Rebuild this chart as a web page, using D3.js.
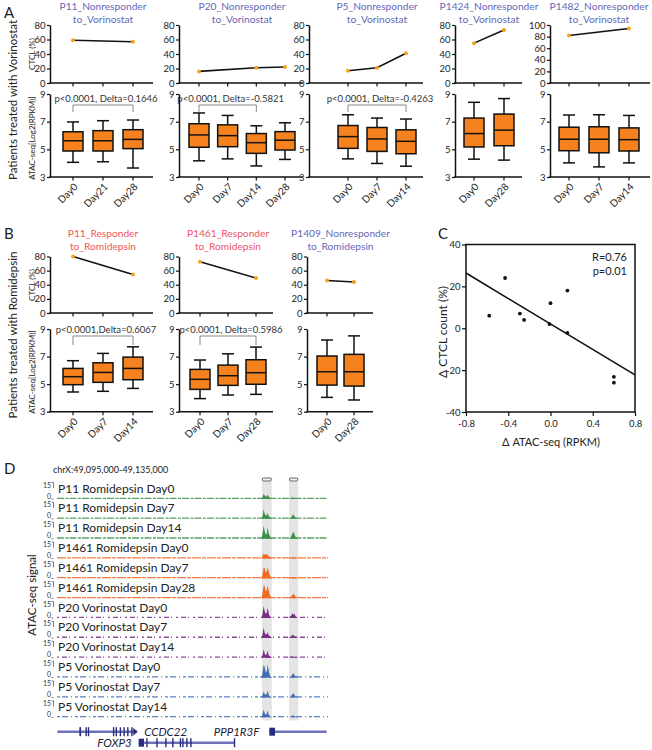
<!DOCTYPE html>
<html><head><meta charset="utf-8">
<script src="https://cdn.jsdelivr.net/npm/d3@7"></script>
<style>body{margin:0;background:#fff}svg{display:block}</style>
</head><body><svg id="c" width="652" height="750"></svg>
<script>
// ================= DATA =================
const boxTicks = [3, 5, 7, 9];

// Panel A – Vorinostat
const vorTitles = [["P11_Nonresponder","to_Vorinostat"],["P20_Nonresponder","to_Vorinostat"],["P5_Nonresponder","to_Vorinostat"],["P1424_Nonresponder","to_Vorinostat"],["P1482_Nonresponder","to_Vorinostat"]];
const vorDays = [["Day0","Day21","Day28"],["Day0","Day7","Day14","Day28"],["Day0","Day7","Day14"],["Day0","Day28"],["Day0","Day7","Day14"]];
const vorCTCL = [[59,null,57],[16,null,21,22],[17,21,41],[55,73],[82,null,94]];
const vorCTCLTicks = [[0,20,40,60,80],[0,20,40,60,80],[0,20,40,60,80],[0,20,40,60,80],[0,20,40,60,80,100]];
// [min, q1, median, q3, max]
const vorBoxes = [
  [[4.06,4.88,5.62,6.27,6.98],[4.10,4.88,5.62,6.35,7.07],[3.65,5.05,5.72,6.42,7.12]],
  [[4.17,5.15,6.04,6.85,7.63],[4.31,5.19,5.99,6.77,7.45],[3.80,4.71,5.48,6.14,6.70],[4.27,4.95,5.66,6.28,6.92]],
  [[4.31,5.07,5.92,6.72,7.50],[3.98,4.85,5.75,6.58,7.26],[3.78,4.68,5.58,6.41,7.19]],
  [[4.29,5.17,6.14,7.26,8.40],[4.22,5.26,6.39,7.55,8.67]],
  [[4.02,4.90,5.73,6.60,7.48],[3.73,4.75,5.73,6.63,7.50],[4.02,4.88,5.70,6.55,7.45]]
];
const vorStats = ["p<0.0001, Delta=0.1646","p<0.0001, Delta=-0.5821","p<0.0001, Delta=-0.4263",null,null];
const vorStatPairs = [["Day0","Day28"],["Day0","Day14"],["Day0","Day14"],null,null];

// Panel B – Romidepsin
const romTitles = [["P11_Responder","to_Romidepsin"],["P1461_Responder","to_Romidepsin"],["P1409_Nonresponder","to_Romidepsin"]];
const romResponder = [true,true,false];
const romDays = [["Day0","Day7","Day14"],["Day0","Day7","Day28"],["Day0","Day28"]];
const romCTCL = [[80,null,54.5],[72.5,null,49.5],[46,44]];
const romCTCLTicks = [0,20,40,60,80];
const romBoxes = [
  [[4.43,4.96,5.54,6.14,6.70],[4.48,5.13,5.85,6.55,7.23],[4.69,5.32,6.14,6.96,7.71]],
  [[3.95,4.62,5.35,6.07,6.75],[4.21,4.91,5.61,6.38,7.20],[4.26,4.99,5.83,6.77,7.69]],
  [[4.04,4.93,5.90,7.04,8.20],[3.85,4.86,5.90,7.16,8.50]]
];
const romStats = ["p<0.0001,Delta=0.6067","p<0.0001, Delta=0.5986",null];
const romStatPairs = [["Day0","Day14"],["Day0","Day28"],null];

// Panel C
const deltaATAC = [-0.58,-0.43,-0.29,-0.25,-0.01,0.00,0.16,0.16,0.60,0.60];
const deltaCTCL = [6,24,7,4,2,12,18,-2.2,-23.2,-26];
const cTicksX = [-0.8,-0.4,0,0.4,0.8];
const cTicksY = [-40,-20,0,20,40];
const corrText = ["R=0.76","p=0.01"];

// Panel D
const regionLabel = "chrX:49,095,000-49,135,000";
const trackNames = ["P11 Romidepsin Day0","P11 Romidepsin Day7","P11 Romidepsin Day14","P1461 Romidepsin Day0","P1461 Romidepsin Day7","P1461 Romidepsin Day28","P20 Vorinostat Day0","P20 Vorinostat Day7","P20 Vorinostat Day14","P5 Vorinostat Day0","P5 Vorinostat Day7","P5 Vorinostat Day14"];
const trackPatient = ["P11","P11","P11","P1461","P1461","P1461","P20","P20","P20","P5","P5","P5"];
const trackScale = [0, 15];
// kb offsets from 49,095,000
const peakABins = [30.2,30.35,30.5,30.65,30.8,30.95,31.1,31.25,31.4,31.55,31.7];
const peakBBins = [34.3,34.45,34.6,34.75,34.9,35.05,35.2,35.35,35.5];
const peakAVals = [
  [0.5,2,6,4,3,3,5,3,1.5,1,0.5],
  [0.5,3,11,6,4,4,7,3,2,1,0.5],
  [1,6,15,9,5,5,13,6,3,1.5,0.5],
  [1,3,6,4,5,5,4,3,2,1.5,1],
  [1,5,13,12,7,8,13,8,4,2,1],
  [1,6,15,14,8,9,15,9,4,2,1],
  [0.5,5,14,8,5,6,12,5,2,1,0.5],
  [0.5,4,12,6,4,4,7,3,2,1,0.5],
  [0.5,3,10,5,3,4,8,3,1.5,1,0.5],
  [0.5,6,15,12,6,7,15,8,3,1,0.5],
  [0.5,3,7,4,3,4,8,3,1.5,1,0.5],
  [0.5,4,9,5,3,4,8,3,1.5,1,0.5]
];
const peakBVals = [
  [0.3,0.5,1,2,1.5,1,0.5,0.3,0.2],
  [0.3,1,2,4,5,3,1.5,0.5,0.3],
  [0.5,1,3,6,8,5,2,1,0.5],
  [0.5,0.8,1,1.2,1.5,1.2,1,0.8,0.5],
  [0.5,0.8,1,1.5,1.5,1.2,1,0.8,0.5],
  [0.5,1,2,4,5,4,2,1,0.5],
  [1,2,3,6,4,5,2,1,0.5],
  [0.5,1,2,4,3,2,1.5,1,0.5],
  [0.5,1,1.5,2,1.5,1,1,0.5,0.5],
  [0.5,1,2,4,5,3,1.5,1,0.5],
  [0.5,1,2,4,5,3,1.5,1,0.5],
  [0.5,0.8,1,2,2,1.5,1,0.5,0.3]
];
const highlightKb = [[30.25,31.7],[34.25,35.6]];
const geneNames = ["CCDC22","FOXP3","PPP1R3F"];
const geneSpans = [[0.05,11.85],[12.06,26.17],[31.34,39.8]];
const geneRows = [0,1,0];
const geneExons = [
  [[3.3,3.55],[4.2,4.35],[4.55,4.75],[8.25,8.45],[8.65,8.85],[9.25,9.45],[9.8,10.0],[10.35,10.55],[10.95,11.15]],
  [[12.06,12.84],[13.17,13.32],[14.65,14.8],[15.97,16.12],[17.0,17.15],[18.12,18.27],[18.48,18.63],[19.07,19.22],[19.66,19.81],[26.1,26.25]],
  [[31.34,32.18]]
];

// ================= STYLE / LAYOUT =================
const FONT = "Lato, 'Open Sans', sans-serif";
const svg = d3.select("#c").attr("font-family", FONT);
const INK = "#111", TXT = "#222";
const BOX_FILL = "#f5821f", DOT = "#f7a21b";
const NONRESP = "#6468b6", RESP = "#ee5560";
const trackColor = {P11:"#3a9148", P1461:"#f26a22", P20:"#7a2c86", P5:"#3f6cb5"};
const trackDash = {P11:"7,1.5,3,1", P1461:"9,1,4,1", P20:"2,3,5,2,1,4", P5:"3,2,6,3,1,3"};

function text(g, x, y, s, o = {}) {
  const t = g.append("text").attr("x", x).attr("y", y).text(s)
    .attr("font-size", o.size || 10).attr("fill", o.fill || TXT)
    .attr("text-anchor", o.anchor || "start");
  if (o.rotate != null) t.attr("transform", `rotate(${o.rotate},${x},${y})`);
  if (o.italic) t.attr("font-style", "italic");
  return t;
}
function yAxis(g, scale, ticks, x, fs) {
  const ax = g.append("g").attr("transform", `translate(${x},0)`)
    .call(d3.axisLeft(scale).tickValues(ticks).tickSize(3).tickSizeOuter(0).tickPadding(1.5).tickFormat(d => String(d)));
  ax.attr("font-family", FONT).attr("font-size", fs);
  ax.select(".domain").attr("stroke", INK).attr("stroke-width", 1.5);
  ax.selectAll(".tick line").attr("stroke", INK).attr("stroke-width", 1.2);
  ax.selectAll(".tick text").attr("fill", TXT);
  return ax;
}
function xAxisLine(g, x, x0, x1, y, labels) {
  g.append("line").attr("x1", x0 - 0.75).attr("x2", x1).attr("y1", y).attr("y2", y)
    .attr("stroke", INK).attr("stroke-width", 1.5);
  g.selectAll(null).data(x.domain()).join("line")
    .attr("x1", d => x(d)).attr("x2", d => x(d)).attr("y1", y).attr("y2", y + 3.5)
    .attr("stroke", INK).attr("stroke-width", 1.2);
  if (labels) {
    x.domain().forEach(d => {
      const px = x(d) + 3, py = y + 8;
      g.append("text").attr("transform", `translate(${px},${py}) rotate(-45)`)
        .attr("text-anchor", "end").attr("dy", "0.35em")
        .attr("font-size", 10).attr("fill", TXT).text(d);
    });
  }
}

function drawPair(p) {
  const g = svg.append("g");
  const x = d3.scalePoint().domain(p.days).range([p.x0, p.x1]);
  const yc = d3.scaleLinear().domain([0, d3.max(p.ctclTicks)]).range([p.cBot, p.cTop]);
  const yb = d3.scaleLinear().domain([3, 9]).range([p.bBot, p.bTop]);
  const tc = (p.x0 + p.x1) / 2;
  p.title.forEach((t, i) => text(g, tc, p.titleY + i * 12.5, t, {size: 10.2, fill: p.titleColor, anchor: "middle"}));

  // CTCL line chart
  yAxis(g, yc, p.ctclTicks, p.axX, 9.5);
  xAxisLine(g, x, p.axX, p.axEnd, p.cBot, false);
  const pts = p.days.map((d, i) => [d, p.ctcl[i]]).filter(d => d[1] != null);
  g.append("path").datum(pts).attr("d", d3.line().x(d => x(d[0])).y(d => yc(d[1])))
    .attr("fill", "none").attr("stroke", INK).attr("stroke-width", 1.6);
  g.selectAll(null).data(pts).join("circle")
    .attr("cx", d => x(d[0])).attr("cy", d => yc(d[1])).attr("r", 2).attr("fill", DOT);

  // box plots
  yAxis(g, yb, boxTicks, p.axX, 9.5);
  xAxisLine(g, x, p.axX, p.axEnd, p.bBot, true);
  const bw = 20, cw = 12;
  p.days.forEach((d, i) => {
    const b = p.boxes[i], cx = x(d);
    const s = (sel) => sel.attr("stroke", INK).attr("stroke-width", 1.5);
    s(g.append("line").attr("x1", cx).attr("x2", cx).attr("y1", yb(b[4])).attr("y2", yb(b[3])));
    s(g.append("line").attr("x1", cx).attr("x2", cx).attr("y1", yb(b[1])).attr("y2", yb(b[0])));
    s(g.append("line").attr("x1", cx - cw/2).attr("x2", cx + cw/2).attr("y1", yb(b[4])).attr("y2", yb(b[4])));
    s(g.append("line").attr("x1", cx - cw/2).attr("x2", cx + cw/2).attr("y1", yb(b[0])).attr("y2", yb(b[0])));
    s(g.append("rect").attr("x", cx - bw/2).attr("width", bw).attr("y", yb(b[3])).attr("height", yb(b[1]) - yb(b[3])).attr("fill", BOX_FILL));
    s(g.append("line").attr("x1", cx - bw/2).attr("x2", cx + bw/2).attr("y1", yb(b[2])).attr("y2", yb(b[2])));
  });
  if (p.stat) {
    const xa = x(p.statPair[0]), xb = x(p.statPair[1]);
    const yBr = p.bTop + p.brOff;
    g.append("path").attr("d", `M${xa},${yBr + p.brDrop}V${yBr}H${xb}V${yBr + p.brDrop}`)
      .attr("fill", "none").attr("stroke", "#888").attr("stroke-width", 1);
    text(g, (xa + xb) / 2 + 3, yBr - 3.5, p.stat, {size: 9.5, fill: "#333", anchor: "middle"});
  }
}

// ---- Panel A ----
text(svg, 4, 18, "A", {size: 15});
const aAx = [50, 179, 309, 455, 550], aEnd = [153, 303, 423, 522, 650];
const aX = [[73,133],[199,285],[348,406],[474,504],[569,629]];
vorTitles.forEach((t, i) => drawPair({
  title: t, titleColor: NONRESP, days: vorDays[i], ctcl: vorCTCL[i], ctclTicks: vorCTCLTicks[i],
  boxes: vorBoxes[i], stat: vorStats[i], statPair: vorStatPairs[i],
  axX: aAx[i], axEnd: aEnd[i], x0: aX[i][0], x1: aX[i][1],
  cTop: 25, cBot: 83, bTop: 94, bBot: 177, titleY: 10, brOff: 11, brDrop: 7
}));
text(svg, 17, 100, "Patients treated with Vorinostat", {size: 11.5, anchor: "middle", rotate: -90});
text(svg, 35, 54, "CTCL (%)", {size: 8, anchor: "middle", rotate: -90});
text(svg, 35, 138, "ATAC-seq[Log2(RPKM)]", {size: 8, anchor: "middle", rotate: -90});

// ---- Panel B ----
text(svg, 4, 239, "B", {size: 15});
const bAx = [50, 179, 307], bEnd = [153, 273, 373];
const bX = [[73,133],[200,256],[327,354]];
romTitles.forEach((t, i) => drawPair({
  title: t, titleColor: romResponder[i] ? RESP : NONRESP, days: romDays[i], ctcl: romCTCL[i], ctclTicks: romCTCLTicks,
  boxes: romBoxes[i], stat: romStats[i], statPair: romStatPairs[i],
  axX: bAx[i], axEnd: bEnd[i], x0: bX[i][0], x1: bX[i][1],
  cTop: 256.5, cBot: 313, bTop: 329, bBot: 411.7, titleY: 237, brOff: 7, brDrop: 9
}));
text(svg, 17, 335, "Patients treated with Romidepsin", {size: 11.5, anchor: "middle", rotate: -90});
text(svg, 35, 285, "CTCL (%)", {size: 8, anchor: "middle", rotate: -90});
text(svg, 35, 372, "ATAC-seq[Log2(RPKM)]", {size: 8, anchor: "middle", rotate: -90});

// ---- Panel C ----
(function () {
  const g = svg.append("g");
  text(g, 438, 239, "C", {size: 15});
  const x = d3.scaleLinear().domain([-0.8, 0.8]).range([466, 635]);
  const y = d3.scaleLinear().domain([-40, 40]).range([412, 244.5]);
  const ax = g.append("g").attr("transform", "translate(466,0)")
    .call(d3.axisLeft(y).tickValues(cTicksY).tickSize(4).tickPadding(1.5).tickSizeOuter(0).tickFormat(d => String(d)));
  const bx = g.append("g").attr("transform", "translate(0,412)")
    .call(d3.axisBottom(x).tickValues(cTicksX).tickSize(4).tickPadding(4).tickSizeOuter(0).tickFormat(d => d.toFixed(1)));
  [ax, bx].forEach(a => {
    a.attr("font-family", FONT).attr("font-size", 9.5);
    a.select(".domain").remove();
    a.selectAll(".tick line").attr("stroke", INK).attr("stroke-width", 1.2);
    a.selectAll(".tick text").attr("fill", TXT);
  });
  g.append("rect").attr("x", x(-0.8)).attr("y", y(40)).attr("width", x(0.8) - x(-0.8)).attr("height", y(-40) - y(40))
    .attr("fill", "none").attr("stroke", INK).attr("stroke-width", 1.5);
  // least-squares fit
  const mx = d3.mean(deltaATAC), my = d3.mean(deltaCTCL);
  const sxy = d3.sum(deltaATAC, (v, i) => (v - mx) * (deltaCTCL[i] - my));
  const sxx = d3.sum(deltaATAC, v => (v - mx) ** 2);
  const slope = sxy / sxx, icpt = my - slope * mx;
  g.append("line").attr("x1", x(-0.8)).attr("y1", y(icpt + slope * -0.8)).attr("x2", x(0.8)).attr("y2", y(icpt + slope * 0.8))
    .attr("stroke", INK).attr("stroke-width", 1.6);
  g.selectAll(null).data(deltaATAC).join("circle")
    .attr("cx", d => x(d)).attr("cy", (d, i) => y(deltaCTCL[i])).attr("r", 1.9).attr("fill", INK);
  text(g, 627, 261, corrText[0], {size: 11, anchor: "end"});
  text(g, 627, 275, corrText[1], {size: 11, anchor: "end"});
  text(g, 551, 446, "\u0394 ATAC-seq (RPKM)", {size: 11, anchor: "middle"});
  text(g, 447, 332, "\u0394 CTCL count (%)", {size: 12, anchor: "middle", rotate: -90});
})();

// ---- Panel D ----
(function () {
  const g = svg.append("g");
  text(g, 4, 474, "D", {size: 15});
  text(g, 53, 473, regionLabel, {size: 9});
  const x = d3.scaleLinear().domain([0, 40]).range([57, 328]);
  const yBase = i => 499 + i * 19.85;
  // highlight bands
  highlightKb.forEach(r => {
    g.append("rect").attr("x", x(r[0])).attr("width", x(r[1]) - x(r[0])).attr("y", 481.5).attr("height", 239)
      .attr("fill", "#e4e4e4");
    g.append("rect").attr("x", x(r[0]) + 0.5).attr("width", x(r[1]) - x(r[0]) - 1).attr("y", 478).attr("height", 3)
      .attr("fill", "#f2f2f2").attr("stroke", "#555").attr("stroke-width", 0.9).attr("rx", 0.8);
  });
  trackNames.forEach((name, i) => {
    const yb = yBase(i);
    const ys = d3.scaleLinear().domain(trackScale).range([yb, yb - 13]);
    const col = trackColor[trackPatient[i]];
    g.append("line").attr("x1", x(0)).attr("x2", x(40)).attr("y1", yb - 0.7).attr("y2", yb - 0.7)
      .attr("stroke", col).attr("stroke-width", 1.3).attr("stroke-dasharray", trackDash[trackPatient[i]]).attr("opacity", 0.85);
    const area = d3.area().x(d => x(d[0])).y0(yb).y1(d => ys(d[1]));
    g.append("path").attr("d", area(peakABins.map((b, k) => [b, peakAVals[i][k]]))).attr("fill", col);
    g.append("path").attr("d", area(peakBBins.map((b, k) => [b, peakBVals[i][k]]))).attr("fill", col);
    text(g, 51, yb - 11.5, String(trackScale[1]), {size: 7, anchor: "end", fill: "#333"});
    text(g, 51, yb - 0.5, String(trackScale[0]), {size: 7, anchor: "end", fill: "#333"});
    g.append("path").attr("d", `M51.5,${yb - 16.5}H53.5V${yb - 11}`).attr("fill", "none").attr("stroke", "#444").attr("stroke-width", 0.7);
    g.append("path").attr("d", `M51.5,${yb}H53.5`).attr("fill", "none").attr("stroke", "#444").attr("stroke-width", 0.7);
    text(g, 58, yb - 6.5, name, {size: 12});
  });
  text(g, 36, 595, "ATAC-seq signal", {size: 11.5, anchor: "middle", rotate: -90});

  // genes
  const rowY = [731.7, 742.7];
  const geneLine = "#6d71b9", exonCol = "#272c7e";
  geneNames.forEach((n, gi) => {
    const ry = rowY[geneRows[gi]], sp = geneSpans[gi];
    g.append("line").attr("x1", x(sp[0])).attr("x2", x(sp[1])).attr("y1", ry).attr("y2", ry)
      .attr("stroke", geneLine).attr("stroke-width", 2.4);
    geneExons[gi].forEach(e => {
      const w = Math.max(1.4, x(e[1]) - x(e[0]));
      const h = (e[1] - e[0]) > 0.5 ? 8 : 9;
      g.append("rect").attr("x", x(e[0])).attr("width", w).attr("y", ry - h / 2).attr("height", h).attr("fill", exonCol);
    });
  });
  // CCDC22 strand arrow
  const ce = x(geneSpans[0][1]);
  g.append("path").attr("d", `M${ce - 4},${rowY[0] - 4}L${ce},${rowY[0]}L${ce - 4},${rowY[0] + 4}Z`).attr("fill", exonCol);
  text(g, ce + 7, rowY[0] + 4, geneNames[0], {size: 11.5, italic: true, fill: "#1b1b3a"});
  text(g, x(geneSpans[1][0]) - 7, rowY[1] + 4, geneNames[1], {size: 11.5, italic: true, fill: "#1b1b3a", anchor: "end"});
  text(g, x(geneSpans[2][0]) - 10, rowY[0] + 4, geneNames[2], {size: 11.5, italic: true, fill: "#1b1b3a", anchor: "end"});
})();
</script>
</body></html>
